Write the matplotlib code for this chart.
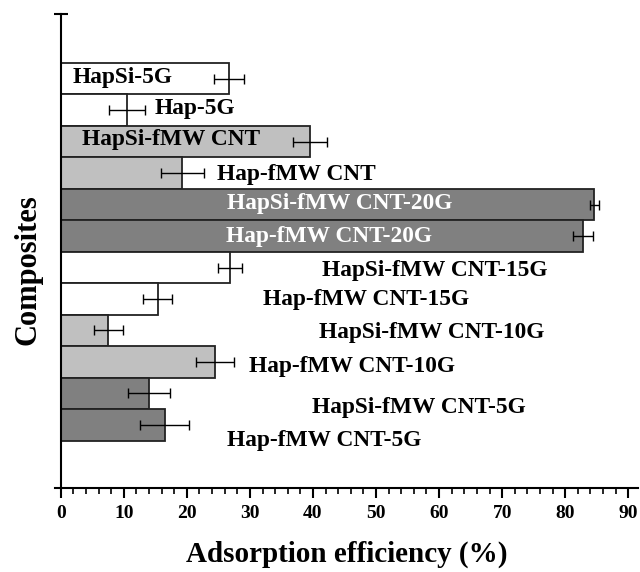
import numpy as np
import matplotlib
matplotlib.use("Agg")
import matplotlib.pyplot as plt

# composites listed top -> bottom
composites = ["HapSi-5G", "Hap-5G", "HapSi-fMW CNT", "Hap-fMW CNT",
              "HapSi-fMW CNT-20G", "Hap-fMW CNT-20G",
              "HapSi-fMW CNT-15G", "Hap-fMW CNT-15G",
              "HapSi-fMW CNT-10G", "Hap-fMW CNT-10G",
              "HapSi-fMW CNT-5G", "Hap-fMW CNT-5G"]
efficiency = [26.7, 10.5, 39.5, 19.3, 84.6, 82.8, 26.9, 15.4, 7.5, 24.5, 14.0, 16.5]
error = [2.4, 2.9, 2.7, 3.4, 0.7, 1.6, 1.9, 2.3, 2.3, 3.0, 3.4, 3.9]

# fill per bar and where each name sits (data coords)
colors = ["white", "white", "#c0c0c0", "#c0c0c0", "#808080", "#808080",
          "white", "white", "#c0c0c0", "#c0c0c0", "#808080", "#808080"]
label_x = [1.9, 14.9, 3.3, 24.8, 26.4, 26.2, 41.5, 32.0, 40.9, 29.9, 39.9, 26.4]
label_dy = [0.02, 0.06, 0.05, -0.06, 0.02, 0.0, -0.11, -0.03, -0.05, -0.13, -0.43, -0.48]
label_col = ["black"] * 4 + ["white"] * 2 + ["black"] * 6

plt.rcParams["font.family"] = ["Liberation Serif", "DejaVu Serif"]
plt.rcParams["font.weight"] = "bold"

fig = plt.figure(figsize=(6.4, 5.72), dpi=100)
ax = fig.add_axes([0.0864, 0.1469, 0.911, 0.8287])

ypos = np.arange(len(composites))[::-1] + 2
ax.barh(ypos, efficiency, height=1.0, color=colors, edgecolor="#222222", linewidth=1.3, zorder=2)
ax.errorbar(efficiency, ypos, xerr=error, fmt="none", ecolor="black",
            elinewidth=1.0, capsize=3.5, capthick=1.0, zorder=3)

for name, x, y, dy, c in zip(composites, label_x, ypos, label_dy, label_col):
    ax.text(x, y + dy, name, ha="left", va="center", fontsize=16.8,
            fontweight="bold", color=c, zorder=4)

ax.set_xlim(-0.87, 91.6)
ax.set_ylim(0, 15.05)
ax.spines["left"].set_position(("data", 0))
ax.spines["top"].set_visible(False)
ax.spines["right"].set_visible(False)
for s in ("left", "bottom"):
    ax.spines[s].set_linewidth(1.5)

ax.set_xticks(np.arange(0, 91, 10))
ax.set_xticks(np.arange(0, 92, 2), minor=True)
ax.tick_params(axis="x", which="major", direction="out", length=7, width=1.5,
               labelsize=14, pad=5)
ax.tick_params(axis="x", which="minor", direction="out", length=4, width=1.2)
ax.set_yticks([15.05])
ax.set_yticklabels([])
ax.tick_params(axis="y", which="major", direction="inout", length=10, width=1.5)
for lab in ax.get_xticklabels():
    lab.set_fontweight("bold")

ax.set_xlabel("Adsorption efficiency (%)", fontsize=21, fontweight="bold", labelpad=14)
fig.text(0.044, 0.528, "Composites", rotation=90, ha="center", va="center",
         fontsize=22, fontweight="bold")

fig.savefig("out.png", dpi=100)
